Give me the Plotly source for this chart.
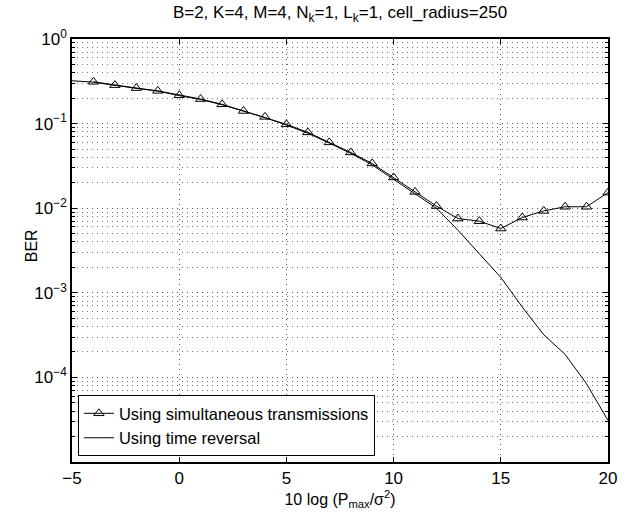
import plotly.graph_objects as go

# DATA
# ----------------------------------------------------------------------------------------------
snr_sim = list(range(-4, 21))
ber_sim = [0.312, 0.285, 0.263, 0.244, 0.216, 0.195, 0.169, 0.141, 0.120, 0.098, 0.0787,
           0.060, 0.0456, 0.0338, 0.0231, 0.0156, 0.0106, 0.00755, 0.00702, 0.00575,
           0.00776, 0.00929, 0.0104, 0.0104, 0.0153]

snr_tr = list(range(-5, 21))
ber_tr = [0.321, 0.309, 0.283, 0.261, 0.242, 0.214, 0.193, 0.167, 0.139, 0.118, 0.096,
          0.0770, 0.0588, 0.0445, 0.0325, 0.0218, 0.0149, 0.0100, 0.0055, 0.0029, 0.00152,
          0.00068, 0.00032, 0.000187, 0.000084, 0.000031]

y_tickvals = [1e0, 1e-1, 1e-2, 1e-3, 1e-4]
y_ticktext = ['10<sup>0</sup>', '10<sup>−1</sup>', '10<sup>−2</sup>', '10<sup>−3</sup>', '10<sup>−4</sup>']
x_tickvals = [-5, 0, 5, 10, 15, 20]
x_ticktext = ['−5', '0', '5', '10', '15', '20']

minor_vals = [m * 10.0 ** e for e in range(-5, 0) for m in range(2, 10)]

# PLOTTING
# ----------------------------------------------------------------------------------------------
fig = go.Figure()

fig.add_trace(go.Scatter(x=snr_sim, y=ber_sim, mode='lines+markers',
                         name='Using simultaneous transmissions',
                         line=dict(color='black', width=1),
                         marker=dict(symbol='triangle-up-open', size=9, color='black',
                                     line=dict(width=1))))
fig.add_trace(go.Scatter(x=snr_tr, y=ber_tr, mode='lines',
                         name='Using time reversal',
                         line=dict(color='black', width=1)))

grid_dash = '1px,4px'

fig.update_layout(
    width=638, height=516,
    margin=dict(l=72, r=30, t=39, b=54),
    plot_bgcolor='white', paper_bgcolor='white',
    font=dict(family='Liberation Sans, Arial, sans-serif', color='black', size=16),
    title=dict(text='B=2, K=4, M=4, N<sub>k</sub>=1, L<sub>k</sub>=1, cell_radius=250',
               x=340 / 638, xanchor='center', y=1 - 12 / 516, yanchor='middle',
               font=dict(size=17)),
    showlegend=True,
    legend=dict(x=0.011, y=0.014, xanchor='left', yanchor='bottom',
                bgcolor='white', bordercolor='black', borderwidth=1,
                font=dict(size=16.5), tracegroupgap=0, itemwidth=30),
)

fig.update_xaxes(
    range=[-5, 20], tickvals=x_tickvals, ticktext=x_ticktext,
    ticks='inside', ticklen=5, tickcolor='black',
    showline=True, linecolor='black', linewidth=1.5, mirror='allticks',
    showgrid=True, gridcolor='#555555', griddash=grid_dash, gridwidth=1,
    zeroline=False, automargin=False, tickfont=dict(size=17),
    title=dict(text='10 log (P<sub>max</sub>/σ<sup>2</sup>)', standoff=4, font=dict(size=16)),
)
fig.update_yaxes(
    type='log', range=[-5, 0], tickvals=y_tickvals, ticktext=y_ticktext,
    ticks='inside', ticklen=5, tickcolor='black',
    showline=True, linecolor='black', linewidth=1.5, mirror='allticks',
    showgrid=True, gridcolor='#555555', griddash=grid_dash, gridwidth=1,
    zeroline=False, automargin=False, tickfont=dict(size=17),
    minor=dict(tickvals=minor_vals, ticks='inside', ticklen=3, tickcolor='black',
               showgrid=True, gridcolor='#777777', griddash=grid_dash, gridwidth=1),
)

# y axis label placed as an annotation so it sits where the reference has it
fig.add_annotation(text='BER', textangle=-90, xref='paper', yref='paper',
                   x=(31 - 72) / 536, y=0.51, xanchor='center', yanchor='middle',
                   showarrow=False, font=dict(size=16))

# the page's default body margin would shift the whole figure by 8px
fig.write_html("out.html", config={'displayModeBar': False},
               post_script="document.body.style.margin='0';")
